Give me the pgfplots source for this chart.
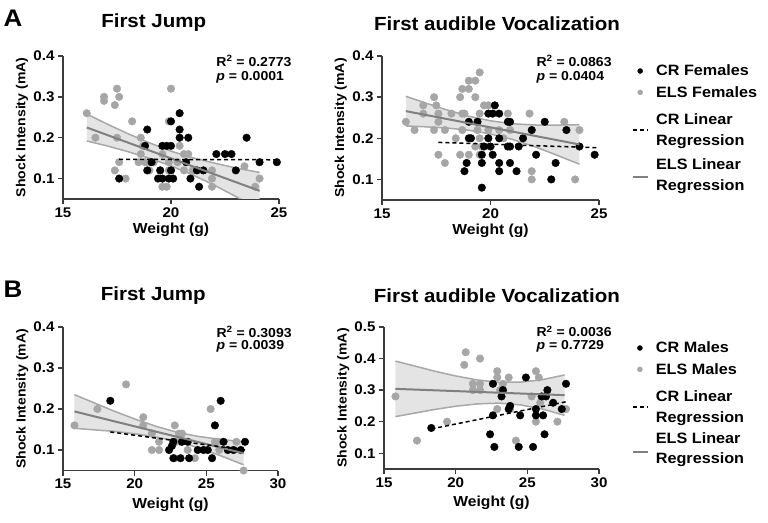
\documentclass[border=0pt]{standalone}
\usepackage{fontspec}
\setmainfont{Liberation Sans}[FakeStretch=1.08]
\usepackage{pgfplots}
\pgfplotsset{compat=1.18}
\definecolor{ptgray}{RGB}{166,166,166}
\definecolor{elsline}{RGB}{128,128,128}
\definecolor{bandedge}{RGB}{168,168,168}
\definecolor{bandfill}{RGB}{228,228,228}
\definecolor{axcol}{RGB}{60,60,60}
\newcommand\fs[2]{\fontsize{#1}{#2}\selectfont\bfseries}
\tikzset{rtext/.style={anchor=base west, font=\fs{13}{15}}}
\newcommand\tstrut{\rule{0pt}{17pt}}
\newcommand\sstrut{\rule{0pt}{14pt}}
\pgfplotsset{
  panel/.style={
    scale only axis,
    axis x line=bottom, axis y line=left,
    axis line style={-, line width=1.4pt, axcol},
    tick style={line width=1.4pt, axcol},
    major tick length=5pt,
    tick align=outside,
    /pgf/number format/assume math mode=true,
    tick label style={font=\fs{14}{16}},
    yticklabel style={/pgf/number format/fixed, /pgf/number format/precision=1},
    title style={font=\fs{19}{22}, anchor=center},
    clip mode=individual,
    ylabel={Shock Intensity (mA)},
    xlabel={Weight (g)},
    ylabel style={at={(axis description cs:-0.19,0.5)}, anchor=center, font=\fs{13}{15}},
    xlabel style={anchor=center, font=\fs{14.5}{16}},
    legend image code/.code={\draw[mark repeat=2, mark phase=2] plot coordinates {(0pt,0pt) (7pt,0pt) (14pt,0pt)};\path (20pt,0pt);},
  },
  crpts/.style={only marks, mark=*, mark size=3.8pt, black, mark options={draw=black, fill=black}},
  elspts/.style={only marks, mark=*, mark size=3.8pt, ptgray, mark options={draw=ptgray, fill=ptgray}},
  crline/.style={black, line width=1.5pt, dash pattern=on 4pt off 3pt},
  elsl/.style={elsline, line width=2pt},
  lineleg/.style={legend image code/.code={\draw (0pt,-3pt) -- (15pt,-3pt);\path (20pt,0pt);}},
  band/.style={fill=bandfill, draw=none, forget plot},
  bedge/.style={bandedge, line width=1.5pt, forget plot},
  leg/.style={legend style={at={(axis description cs:1.152,#1)}, anchor=north west, draw=none, fill=none, font=\fs{15}{20.5}, cells={anchor=west, align=left}, row sep=5pt, inner sep=0pt}},
}
\begin{document}
\begin{tikzpicture}[x=1pt,y=1pt]
\useasboundingbox (0,0) rectangle (768,522);
\node[font=\fs{24}{26}] at (13,504) {A};
\node[font=\fs{24}{26}] at (13,233) {B};

% ---------- A1 ----------
\begin{axis}[panel, at={(63pt,323pt)}, anchor=south west, width=216pt, height=143pt,
  xmin=15, xmax=25, ymin=0.05, ymax=0.4, xtick={15,20,25}, ytick={0.1,0.2,0.3,0.4},
  title={First Jump}, title style={at={(axis description cs:0.42,1.19)}},
  xlabel style={at={(axis description cs:0.5,-0.217)}}]
\addplot[band] coordinates {(16.1,0.258) (17,0.2345) (18,0.210) (19,0.1876) (20,0.167) (21,0.151) (22,0.138) (23,0.126) (24.1,0.115)
  (24.1,0.025) (23,0.056) (22,0.084) (21,0.109) (20,0.131) (19,0.1496) (18,0.166) (17,0.1805) (16.1,0.192)} --cycle;
\addplot[bedge] coordinates {(16.1,0.258) (17,0.2345) (18,0.210) (19,0.1876) (20,0.167) (21,0.151) (22,0.138) (23,0.126) (24.1,0.115)};
\addplot[bedge] coordinates {(16.1,0.192) (17,0.1805) (18,0.166) (19,0.1496) (20,0.131) (21,0.109) (22,0.084) (23,0.056) (24.1,0.025)};
\addplot[elspts, forget plot] coordinates {
(17.5,0.32) (16.9,0.30) (16.9,0.29) (17.6,0.30) (17.4,0.28) (16.1,0.26) (18.2,0.24) (16.5,0.20) (17.5,0.20) (18.6,0.20)
(18.7,0.18) (18.6,0.16) (17.6,0.14) (18.5,0.14) (18.8,0.14) (19.0,0.14) (19.2,0.14) (17.4,0.12) (17.9,0.10) (19.0,0.12)
(19.5,0.12) (19.6,0.16) (19.9,0.24) (19.8,0.08) (19.6,0.08) (19.9,0.14) (19.9,0.12) (20.0,0.32) (20.4,0.18) (20.8,0.16)
(20.6,0.16) (20.6,0.12) (21.0,0.12) (21.9,0.12) (21.9,0.10) (21.9,0.08) (23.4,0.13) (24.1,0.10) (23.9,0.08) (20.3,0.14)};
\addplot[crpts, forget plot] coordinates {
(18.9,0.22) (18.8,0.18) (19.6,0.18) (19.8,0.18) (18.9,0.12) (17.6,0.10) (19.4,0.10) (19.6,0.10) (19.9,0.10) (19.1,0.14)
(19.5,0.12) (20.4,0.26) (20.4,0.22) (20.0,0.24) (20.4,0.20) (20.8,0.20) (20.0,0.18) (22.1,0.16) (22.5,0.16) (22.8,0.16)
(23.5,0.20) (24.1,0.14) (24.9,0.14) (20.7,0.14) (20.0,0.12) (21.2,0.12) (21.5,0.12) (23.0,0.12) (20.9,0.10) (21.3,0.08) (20.1,0.10)};
\addplot[elsl, forget plot] coordinates {(16.1,0.225) (24.1,0.070)};
\addplot[crline, forget plot] coordinates {(17.6,0.147) (24.9,0.146)};
\node[rtext] at (axis description cs:0.694,0.93) {R\textsuperscript{2} = 0.2773};
\node[rtext] at (axis description cs:0.694,0.832) {\textit{p} = 0.0001};
\end{axis}

% ---------- A2 ----------
\begin{axis}[panel, leg=0.954, at={(382pt,322pt)}, anchor=south west, width=217pt, height=144pt,
  xmin=15, xmax=25, ymin=0.05, ymax=0.4, xtick={15,20,25}, ytick={0.1,0.2,0.3,0.4},
  title={First audible Vocalization}, title style={at={(axis description cs:0.53,1.18)}},
  xlabel style={at={(axis description cs:0.5,-0.215)}}]
\addlegendimage{only marks, mark=*, mark size=2.5pt, black}
\addlegendentry{CR Females}
\addlegendimage{only marks, mark=*, mark size=2.5pt, ptgray}
\addlegendentry{ELS Females}
\addlegendimage{crline, lineleg}
\addlegendentry{\tstrut CR Linear\\Regression}
\addlegendimage{elsl, lineleg}
\addlegendentry{\sstrut ELS Linear\\Regression}
\addplot[band] coordinates {(16.1,0.302) (17,0.2859) (18,0.2688) (19,0.2537) (20,0.2425) (21,0.2354) (22,0.2323) (23,0.2321) (24.1,0.233)
  (24.1,0.137) (23,0.1601) (22,0.1803) (21,0.1974) (20,0.2105) (19,0.2197) (18,0.2248) (17,0.2279) (16.1,0.230)} --cycle;
\addplot[bedge] coordinates {(16.1,0.302) (17,0.2859) (18,0.2688) (19,0.2537) (20,0.2425) (21,0.2354) (22,0.2323) (23,0.2321) (24.1,0.233)};
\addplot[bedge] coordinates {(16.1,0.230) (17,0.2279) (18,0.2248) (19,0.2197) (20,0.2105) (21,0.1974) (22,0.1803) (23,0.1601) (24.1,0.137)};
\addplot[elspts, forget plot] coordinates {
(19.5,0.36) (19.0,0.34) (19.3,0.34) (18.7,0.32) (19.0,0.32) (18.6,0.30) (19.3,0.30) (17.4,0.30) (16.9,0.28) (17.5,0.28)
(19.7,0.28) (19.9,0.28) (16.9,0.26) (17.6,0.26) (18.2,0.26) (18.7,0.26) (18.8,0.26) (19.5,0.26) (16.1,0.24) (17.6,0.24)
(16.5,0.22) (17.4,0.22) (17.9,0.22) (18.7,0.22) (19.4,0.22) (19.9,0.22) (18.4,0.20) (19.5,0.20) (19.3,0.18) (19.6,0.18)
(17.6,0.16) (18.6,0.16) (19.0,0.16) (19.5,0.16) (17.9,0.14) (20.8,0.26) (21.8,0.26) (23.4,0.24) (24.1,0.22) (20.4,0.22)
(20.9,0.22) (20.6,0.20) (21.9,0.12) (21.9,0.10) (23.9,0.10) (20.1,0.26)};
\addplot[crpts, forget plot] coordinates {
(19.0,0.24) (19.4,0.24) (19.0,0.20) (19.1,0.20) (19.7,0.18) (20.0,0.18) (19.6,0.16) (18.9,0.14) (18.8,0.12) (19.6,0.14)
(19.6,0.08) (19.9,0.26) (20.2,0.28) (20.4,0.26) (20.1,0.26) (20.8,0.24) (20.9,0.24) (22.5,0.24) (23.5,0.22) (21.9,0.22)
(19.9,0.20) (20.4,0.20) (21.5,0.20) (20.8,0.18) (20.9,0.18) (21.3,0.18) (24.1,0.18) (20.1,0.16) (22.1,0.16) (24.8,0.16)
(20.4,0.14) (20.9,0.14) (23.0,0.14) (20.4,0.12) (21.2,0.12) (22.8,0.10)};
\addplot[elsl, forget plot] coordinates {(16.1,0.266) (24.1,0.185)};
\addplot[crline, forget plot] coordinates {(17.6,0.190) (24.9,0.177)};
\node[rtext] at (axis description cs:0.696,0.93) {R\textsuperscript{2} = 0.0863};
\node[rtext] at (axis description cs:0.696,0.833) {\textit{p} = 0.0404};
\end{axis}

% ---------- B1 ----------
\begin{axis}[panel, at={(63pt,51.5pt)}, anchor=south west, width=215pt, height=143.5pt,
  xmin=15, xmax=30, ymin=0.05, ymax=0.4, xtick={15,20,25,30}, ytick={0.1,0.2,0.3,0.4},
  title={First Jump}, title style={at={(axis description cs:0.42,1.18)}},
  xlabel style={at={(axis description cs:0.5,-0.237)}}]
\addplot[band] coordinates {(15.8,0.235) (17,0.2176) (18.5,0.1957) (20,0.1757) (21.5,0.1577) (23,0.1428) (24.5,0.1328) (26,0.1259) (27.6,0.120)
  (27.6,0.064) (26,0.0859) (24.5,0.1048) (23,0.1208) (21.5,0.1317) (20,0.1397) (18.5,0.1457) (17,0.1496) (15.8,0.153)} --cycle;
\addplot[bedge] coordinates {(15.8,0.235) (17,0.2176) (18.5,0.1957) (20,0.1757) (21.5,0.1577) (23,0.1428) (24.5,0.1328) (26,0.1259) (27.6,0.120)};
\addplot[bedge] coordinates {(15.8,0.153) (17,0.1496) (18.5,0.1457) (20,0.1397) (21.5,0.1317) (23,0.1208) (24.5,0.1048) (26,0.0859) (27.6,0.064)};
\addplot[elspts, forget plot] coordinates {
(15.8,0.16) (17.4,0.20) (19.4,0.26) (20.6,0.18) (20.6,0.16) (21.2,0.14) (21.7,0.12) (21.2,0.10) (21.7,0.10) (22.8,0.16)
(23.1,0.14) (23.3,0.14) (22.9,0.12) (23.7,0.10) (22.8,0.08) (24.2,0.08) (25.3,0.20) (25.6,0.12) (25.9,0.10) (27.1,0.12)
(27.6,0.05) (23.2,0.12) (25.8,0.12)};
\addplot[crpts, forget plot] coordinates {
(18.3,0.22) (26.0,0.22) (25.6,0.16) (22.4,0.10) (22.6,0.11) (22.7,0.12) (23.3,0.12) (23.7,0.12) (22.7,0.08) (23.2,0.08)
(23.8,0.08) (24.4,0.10) (24.8,0.10) (25.1,0.10) (25.4,0.08) (26.2,0.12) (26.5,0.10) (26.9,0.10) (27.4,0.10) (27.7,0.12)};
\addplot[elsl, forget plot] coordinates {(15.8,0.194) (27.6,0.092)};
\addplot[crline, forget plot] coordinates {(18.3,0.144) (27.7,0.100)};
\node[rtext] at (axis description cs:0.698,0.93) {R\textsuperscript{2} = 0.3093};
\node[rtext] at (axis description cs:0.698,0.84) {\textit{p} = 0.0039};
\end{axis}

% ---------- B2 ----------
\begin{axis}[panel, leg=0.911, at={(384pt,53pt)}, anchor=south west, width=215pt, height=142pt,
  xmin=15, xmax=30, ymin=0.05, ymax=0.5, xtick={15,20,25,30}, ytick={0.1,0.2,0.3,0.4,0.5},
  title={First audible Vocalization}, title style={at={(axis description cs:0.525,1.18)}},
  xlabel style={at={(axis description cs:0.5,-0.235)}}]
\addlegendimage{only marks, mark=*, mark size=2.5pt, black}
\addlegendentry{CR Males}
\addlegendimage{only marks, mark=*, mark size=2.5pt, ptgray}
\addlegendentry{ELS Males}
\addlegendimage{crline, lineleg}
\addlegendentry{\tstrut CR Linear\\Regression}
\addlegendimage{elsl, lineleg}
\addlegendentry{ELS Linear\\Regression}
\addplot[band] coordinates {(15.8,0.392) (17,0.378) (18.5,0.3604) (20,0.3449) (21.5,0.3323) (23,0.3248) (24.5,0.3252) (26,0.3327) (27.6,0.348)
  (27.6,0.220) (26,0.2407) (24.5,0.2532) (23,0.2588) (21.5,0.2563) (20,0.2489) (18.5,0.2384) (17,0.226) (15.8,0.216)} --cycle;
\addplot[bedge] coordinates {(15.8,0.392) (17,0.378) (18.5,0.3604) (20,0.3449) (21.5,0.3323) (23,0.3248) (24.5,0.3252) (26,0.3327) (27.6,0.348)};
\addplot[bedge] coordinates {(15.8,0.216) (17,0.226) (18.5,0.2384) (20,0.2489) (21.5,0.2563) (23,0.2588) (24.5,0.2532) (26,0.2407) (27.6,0.220)};
\addplot[elspts, forget plot] coordinates {
(15.8,0.28) (17.3,0.14) (19.4,0.20) (20.7,0.42) (20.6,0.38) (21.7,0.40) (21.2,0.32) (21.7,0.32) (21.2,0.30) (21.7,0.30)
(22.9,0.36) (22.9,0.34) (23.7,0.34) (23.3,0.32) (23.1,0.30) (22.9,0.24) (24.2,0.14) (25.6,0.36) (25.8,0.34) (25.3,0.28)
(25.9,0.26) (25.6,0.20) (27.1,0.20) (27.7,0.24) (23.8,0.24)};
\addplot[crpts, forget plot] coordinates {
(18.3,0.18) (22.6,0.32) (24.9,0.34) (23.2,0.28) (23.3,0.30) (26.4,0.30) (26.0,0.28) (26.3,0.28) (26.8,0.26) (27.7,0.32)
(23.7,0.24) (23.8,0.25) (27.4,0.24) (22.6,0.22) (24.5,0.22) (25.6,0.22) (26.1,0.22) (25.6,0.24) (22.4,0.16) (26.2,0.16)
(22.7,0.12) (24.4,0.12) (25.4,0.12)};
\addplot[elsl, forget plot] coordinates {(15.8,0.304) (27.6,0.284)};
\addplot[crline, forget plot] coordinates {(18.3,0.177) (27.7,0.263)};
\node[rtext] at (axis description cs:0.693,0.93) {R\textsuperscript{2} = 0.0036};
\node[rtext] at (axis description cs:0.693,0.84) {\textit{p} = 0.7729};
\end{axis}
\end{tikzpicture}
\end{document}
